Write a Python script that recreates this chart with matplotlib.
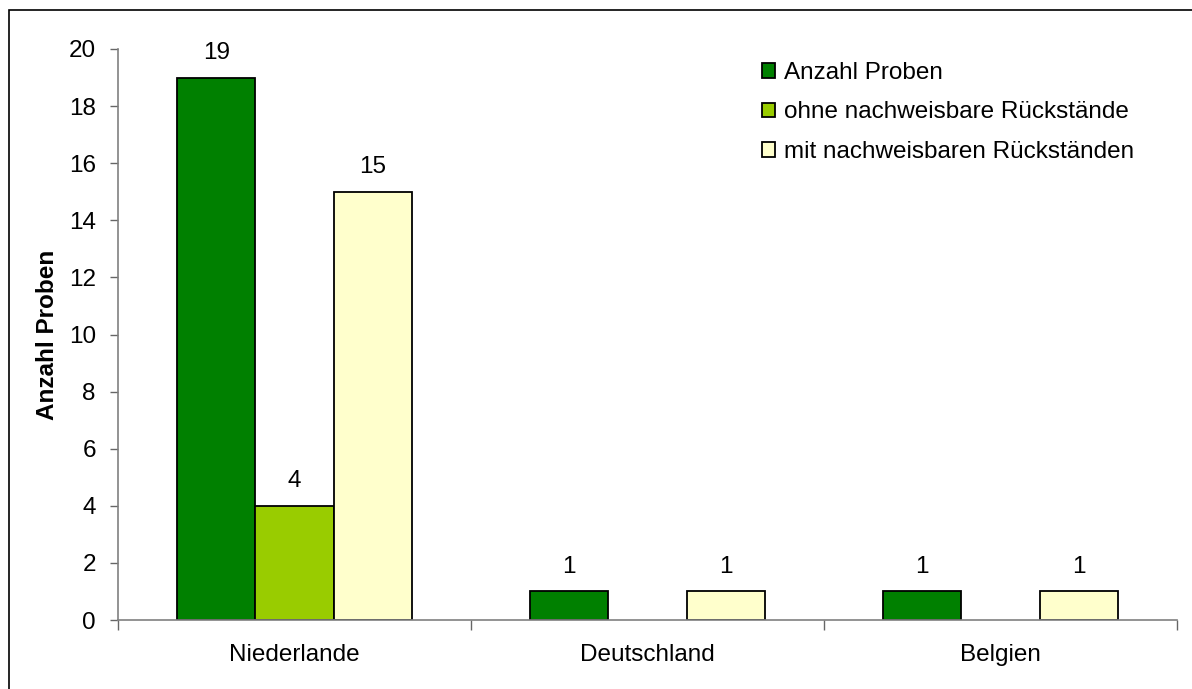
import numpy as np
import matplotlib
matplotlib.use('Agg')
import matplotlib.pyplot as plt
from matplotlib.patches import Rectangle

plt.rcParams['font.family'] = ['Liberation Sans', 'DejaVu Sans']

#-------------------------------------------------------------------------
countries = ['Niederlande', 'Deutschland', 'Belgien']
series_names = ['Anzahl Proben',
                'ohne nachweisbare Rückstände',
                'mit nachweisbaren Rückständen']
anzahl = [19, 1, 1]
ohne = [4, np.nan, np.nan]
mit = [15, 1, 1]
colors = ['#008000', '#99CC00', '#FFFFCC']
yticks = list(range(0, 21, 2))

#-------------------------------------------------------------------------
fs = 17.5
fig = plt.figure(figsize=(11.92, 6.89), dpi=100)
ax = fig.add_axes([0.099, 0.1001, 0.8884, 0.8288])

# frame around the whole chart area (runs off the right and bottom edges)
top = 1 - 10/689
fig.patches.append(Rectangle((9/1192, -0.2), 1.2, top + 0.2,
                             transform=fig.transFigure, fill=False,
                             edgecolor='black', linewidth=1.2))

x = np.arange(len(countries))
width = 0.222
for i, vals in enumerate([anzahl, ohne, mit]):
    bars = ax.bar(x + (i - 1)*width, vals, width, color=colors[i],
                  edgecolor='black', linewidth=1.3, label=series_names[i])
    labels = ['' if np.isnan(v) else '%d' % v for v in vals]
    ax.bar_label(bars, labels=labels, padding=10, fontsize=fs)

ax.set_xlim(-0.5, 2.5)
ax.set_ylim(0, 20)
ax.set_yticks(yticks)
ax.tick_params(axis='y', direction='out', length=6, width=1,
               color='#666666', labelsize=fs, pad=10)

ax.set_xticks(x)
ax.set_xticklabels(countries)
ax.set_xticks([-0.5, 0.5, 1.5, 2.5], minor=True)
ax.tick_params(axis='x', which='major', length=0, labelsize=fs, pad=17)
ax.tick_params(axis='x', which='minor', direction='out', length=7,
               width=1, color='#666666')

for s in ['top', 'right']:
    ax.spines[s].set_visible(False)
for s in ['left', 'bottom']:
    ax.spines[s].set_color('#808080')
    ax.spines[s].set_linewidth(1.2)

ax.set_ylabel('Anzahl Proben', fontsize=fs, fontweight='bold', labelpad=7)

ax.legend(loc='upper left', bbox_to_anchor=(762/1192, 1 - 62/689),
          bbox_transform=fig.transFigure, frameon=False, fontsize=fs,
          handlelength=0.55, handleheight=0.55, handletextpad=0.35,
          labelspacing=0.72, borderpad=0, borderaxespad=0)

plt.savefig('out.png', dpi=100)
plt.close()
